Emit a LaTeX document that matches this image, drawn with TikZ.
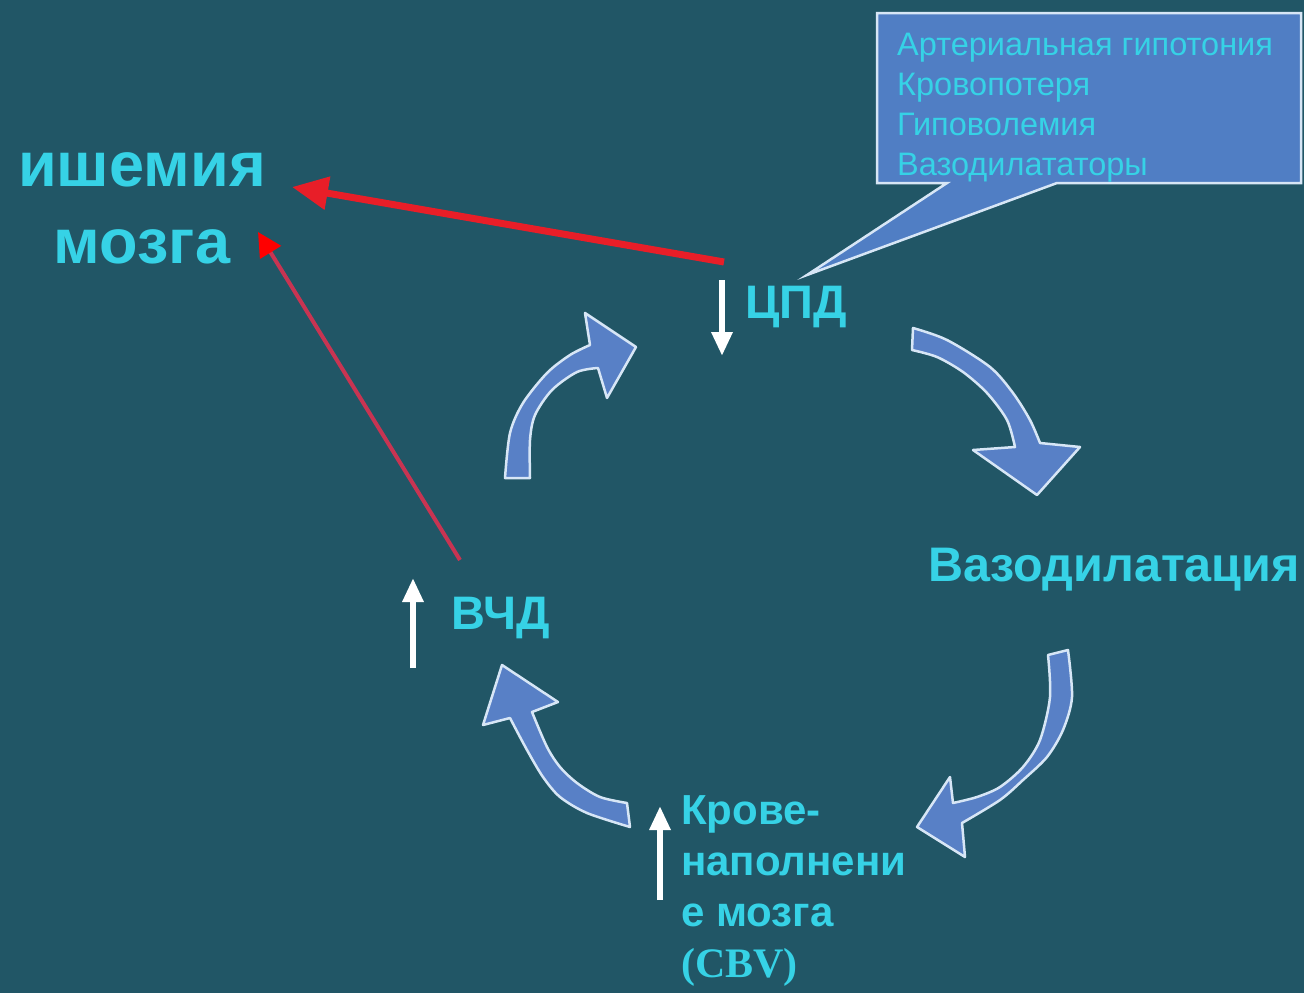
\documentclass[tikz,border=0pt]{standalone}
\usepackage{fontspec}
\setmainfont{Liberation Sans}
\newfontfamily\timesfont{Liberation Serif}
\usetikzlibrary{arrows.meta}
\definecolor{bg}{RGB}{33,86,102}
\definecolor{cyantext}{RGB}{54,210,230}
\definecolor{arrowblue}{RGB}{88,128,198}
\definecolor{outline}{RGB}{215,230,246}
\definecolor{calloutblue}{RGB}{80,126,196}
\definecolor{redA}{RGB}{232,30,40}
\definecolor{redB}{RGB}{200,52,82}
\tikzset{
  blockarrow/.style={fill=arrowblue, draw=outline, line width=2.5pt, line join=round},
  bigtext/.style={text=cyantext, font=\bfseries\fontsize{47}{54}\selectfont, inner sep=0pt},
  whitearrow/.style={draw=white, line width=6pt, -{Triangle[length=24pt,width=20pt]}},
}
\begin{document}
\begin{tikzpicture}[x=1pt,y=-1pt]
\useasboundingbox (0,0) rectangle (1304,993);
\fill[bg] (0,0) rectangle (1304,993);

% callout
\draw[fill=calloutblue, draw=outline, line width=2.5pt, line join=miter]
  (877,13) -- (1301,13) -- (1301,183) -- (1057,183) -- (807,275) -- (947,183) -- (877,183) -- cycle;
\node (causes) [anchor=base west, align=left, text=cyantext, inner sep=0pt,
  font=\fontsize{32.5}{40}\selectfont] at (897,175)
  {Артериальная гипотония\\Кровопотеря\\Гиповолемия\\Вазодилататоры};

% texts
\node (isch) [bigtext, anchor=base, align=center, font=\bfseries\fontsize{63}{77}\selectfont] at (142,263) {ишемия\\мозга};
\node (cpd) [bigtext, anchor=base west] at (745,318) {ЦПД};
\node (vaz) [bigtext, anchor=base west, font=\bfseries\fontsize{48.5}{54}\selectfont] at (928,581) {Вазодилатация};
\node (vchd) [bigtext, anchor=base west] at (451,629) {ВЧД};
\node (krov) [bigtext, anchor=base west, align=left, font=\bfseries\fontsize{42}{51}\selectfont] at (681,977)
  {Крове-\\наполнени\\е мозга\\{\timesfont (CBV)}};

% white arrows
\coordinate (cpdA1) at (722,280); \coordinate (cpdA2) at (722,356);
\coordinate (vchdA1) at (413,668); \coordinate (vchdA2) at (413,578);
\coordinate (krovA1) at (660,900); \coordinate (krovA2) at (660,806);
\draw[whitearrow] (cpdA1) -- (cpdA2);
\draw[whitearrow] (vchdA1) -- (vchdA2);
\draw[whitearrow] (krovA1) -- (krovA2);

% red arrows
\coordinate (redAstart) at (724,262); \coordinate (redAend) at (292,187);
\coordinate (redBstart) at (460,560); \coordinate (redBend) at (258,232);
\draw[redA, line width=7pt, -{Triangle[length=36pt,width=32pt]}] (redAstart) -- (redAend);
\draw[redB, line width=4pt, -{Triangle[length=24pt,width=24pt,color=red]}] (redBstart) -- (redBend);

% curved block arrows
\draw[blockarrow] plot[smooth] coordinates {(505,478) (510,433) (523,403) (547,373) (570,355) (590,345)}
  -- (585,313) -- (636,347) -- (607,398)
  -- plot[smooth] coordinates {(598,368) (577,372) (552,390) (535,415) (530,440) (530,478)} -- cycle;
\draw[blockarrow] plot[smooth] coordinates {(913,328) (947,340) (990,367) (1013,393) (1030,420) (1040,443)}
  -- (1080,447) -- (1037,495) -- (973,450)
  -- plot[smooth] coordinates {(1015,447) (1007,420) (987,393) (963,372) (937,357) (912,350)} -- cycle;
\draw[blockarrow] plot[smooth] coordinates {(1068,650) (1072,697) (1063,730) (1047,757) (1023,780) (1000,800) (962,823)}
  -- (965,857) -- (917,827) -- (950,777)
  -- plot[smooth] coordinates {(953,803) (977,797) (1000,787) (1023,767) (1040,740) (1050,697) (1048,655)} -- cycle;
\draw[blockarrow] plot[smooth] coordinates {(630,827) (587,813) (560,797) (543,777) (527,750) (510,718)}
  -- (483,725) -- (502,665) -- (558,702)
  -- plot[smooth] coordinates {(532,712) (547,747) (560,767) (577,783) (600,797) (627,803)} -- cycle;
\end{tikzpicture}
\end{document}
